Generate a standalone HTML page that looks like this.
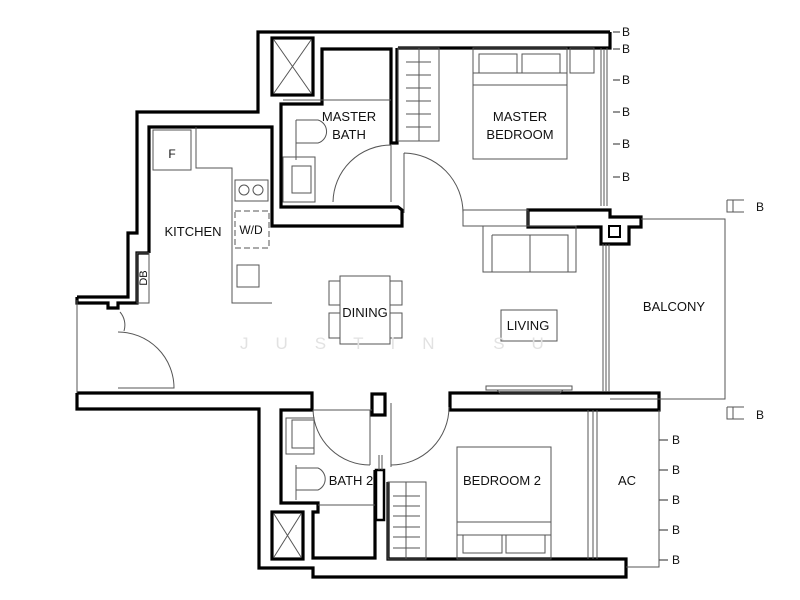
<!DOCTYPE html>
<html><head><meta charset="utf-8"><style>html,body{margin:0;padding:0;background:#fff}svg{display:block}text{font-family:"Liberation Sans",sans-serif;fill:#111}</style></head>
<body>
<svg width="800" height="600" viewBox="0 0 800 600" xmlns="http://www.w3.org/2000/svg">
<rect width="800" height="600" fill="#fff"/>
<g fill="none" stroke="#000" stroke-width="3.2" stroke-linejoin="miter">
<!-- outer upper-left wall -->
<path d="M610,32 L258,32 L258,112 L137,112 L137,233 L128,233 L128,297 L77,297"/>
<path d="M610,32 L610,48 L398,48"/>
<!-- kitchen inner wall -->
<path d="M149,253 L149,127 L272,127 L272,226 L402,226 L402,210 L398,207 L281,207 L281,104 L322,104 L322,49 L391,49 L391,143 L397,143 L397,48"/>
<path d="M77,297 L77,303 L108,303 L108,308 L118,308 L118,303 L128,303 L137,303 L137,253 L149,253"/>
<!-- shaft -->
<rect x="272" y="38" width="41" height="57"/>
<!-- living/balcony wall -->
<path d="M528,210 L610,210 L610,217 L641,217 L641,227 L629,227 L629,244 L601,244 L601,227 L528,227 Z"/>
<rect x="609" y="226" width="11" height="11" stroke-width="2"/>
<!-- bottom left wall -->
<path d="M77,393 L312,393 L312,410 L281,410 L281,503 L318,503 L318,512 L313,512 L313,558 L375,558 L375,470"/>
<path d="M77,393 L77,409 L259,409 L259,568 L313,568 L313,577 L626,577 L626,559 L388,559 L388,482"/>
<rect x="272" y="512" width="31" height="47"/>
<rect x="372" y="394" width="13" height="21"/>
<rect x="450" y="393" width="209" height="17"/>
<rect x="376" y="470" width="8" height="50" stroke-width="2.5"/>
</g>
<g fill="none" stroke="#555" stroke-width="1">
<!-- shaft X -->
<path d="M274,40 L311,93 M311,40 L274,93 M274,514 L301,557 M301,514 L274,557"/>
<!-- kitchen counter -->
<path d="M196,127 L196,168 L232,168 L232,303 L272,303"/>
<rect x="153" y="130" width="38" height="40"/>
<rect x="235" y="180" width="33" height="21"/>
<circle cx="244" cy="190" r="5"/><circle cx="258" cy="190" r="5"/>
<rect x="235" y="211" width="34" height="37" stroke-dasharray="6,3"/>
<rect x="237" y="265" width="22" height="22"/>
<rect x="137" y="253" width="12" height="50"/>
<!-- master bath -->
<path d="M283,100 L391,100 M296,120 L296,160"/>
<path d="M296,120 L318,120 A12,12 0 0 1 318,143 L296,143"/>
<rect x="283" y="157" width="32" height="45"/>
<rect x="292" y="166" width="19" height="27"/>
<path d="M333,202 A58,58 0 0 1 391,145 M391,145 L391,202"/>
<!-- wardrobe master -->
<rect x="398" y="48" width="41" height="93"/>
<path d="M419,48 L419,141 M406,62 L431,62 M406,75 L431,75 M406,88 L431,88 M406,101 L431,101 M406,114 L431,114 M406,127 L431,127"/>
<!-- master door -->
<path d="M404,153 L404,213 M404,153 A60,60 0 0 1 463,213"/>
<rect x="463" y="210" width="65" height="16"/>
<!-- master bed -->
<rect x="473" y="48" width="94" height="111"/>
<path d="M473,73 L567,73 M473,85 L567,85"/>
<rect x="479" y="54" width="38" height="19"/><rect x="522" y="54" width="38" height="19"/>
<rect x="570" y="48" width="24" height="25"/>
<!-- master window -->
<path d="M601,48 L601,206 M604,50 L604,206 M607,48 L607,206"/>
<g stroke-width="1.3"><path d="M613,32 L620,32 M613,49 L620,49 M613,80 L620,80 M613,112 L620,112 M613,144 L620,144 M613,177 L620,177"/></g>
<!-- sofa -->
<rect x="483" y="226" width="93" height="46"/>
<path d="M492,235 L568,235 L568,272 M492,235 L492,272 M530,235 L530,272"/>
<!-- balcony -->
<path d="M641,219 L725,219 L725,399 L610,399"/>
<path d="M603,244 L603,392 M606,244 L606,392 M609,244 L609,392"/>
<path d="M727,200 L727,212 L744,212 M727,200 L744,200 M733,200 L733,212"/>
<path d="M727,407 L727,419 L744,419 M727,407 L744,407 M733,407 L733,419"/>
<!-- dining -->
<rect x="340" y="276" width="50" height="68"/>
<rect x="329" y="281" width="11" height="24"/><rect x="329" y="313" width="11" height="25"/>
<rect x="390" y="281" width="12" height="24"/><rect x="390" y="313" width="12" height="25"/>
<!-- living -->
<rect x="501" y="310" width="56" height="31"/>
<path d="M486,386 L572,386 L572,390 L486,390 Z M497,390 L500,393 L560,393 L563,390"/>
<!-- entrance door -->
<path d="M77,300 L77,393 M118,332 A56,56 0 0 1 174,388 L118,388 M120,312 A20,20 0 0 1 124,331"/>
<!-- bath2 -->
<path d="M313,410 L372,410 M370,410 L370,465 M313,410 A57,57 0 0 0 370,465"/>
<rect x="286" y="418" width="28" height="36"/>
<rect x="292" y="420" width="22" height="28"/>
<path d="M296,468 L318,468 A12,12 0 0 1 318,490 L296,490 M296,465 L296,500 M318,505 L375,505"/>
<path d="M379,455 L379,470 M382,455 L382,470"/>
<!-- bedroom2 door -->
<path d="M391,403 L391,467 M449,407 A58,58 0 0 1 391,465"/>
<!-- bedroom2 wardrobe -->
<rect x="388" y="482" width="38" height="77"/>
<path d="M406,482 L406,559 M393,496 L420,496 M393,506 L420,506 M393,516 L420,516 M393,527 L420,527 M393,537 L420,537 M393,548 L420,548"/>
<!-- bedroom2 bed -->
<rect x="457" y="447" width="94" height="112"/>
<path d="M457,522 L551,522 M457,535 L551,535"/>
<rect x="463" y="535" width="39" height="18"/><rect x="506" y="535" width="39" height="18"/>
<!-- AC -->
<path d="M588,410 L588,559 M593,410 L593,559 M597,410 L597,559"/>
<path d="M659,410 L659,567 L626,567"/>
<g stroke-width="1.3"><path d="M659,440 L668,440 M659,470 L668,470 M659,500 L668,500 M659,530 L668,530 M659,560 L668,560"/></g>
</g>
<g font-size="13" text-anchor="middle">
<text x="349" y="121">MASTER</text><text x="349" y="139">BATH</text>
<text x="520" y="121">MASTER</text><text x="520" y="139">BEDROOM</text>
<text x="193" y="236">KITCHEN</text>
<text x="251" y="234" font-size="12">W/D</text>
<text x="172" y="158" font-size="12">F</text>
<text x="365" y="317">DINING</text>
<text x="528" y="330">LIVING</text>
<text x="674" y="311">BALCONY</text>
<text x="502" y="485">BEDROOM 2</text>
<text x="627" y="485">AC</text>
<text x="351" y="485">BATH 2</text>
<text x="147" y="278" font-size="11" transform="rotate(-90 147 278)">DB</text>
</g>
<g font-size="12">
<text x="622" y="36">B</text><text x="622" y="53">B</text><text x="622" y="84">B</text><text x="622" y="116">B</text><text x="622" y="148">B</text><text x="622" y="181">B</text>
<text x="756" y="211">B</text><text x="756" y="419">B</text>
<text x="672" y="444">B</text><text x="672" y="474">B</text><text x="672" y="504">B</text><text x="672" y="534">B</text><text x="672" y="564">B</text>
</g>
<text x="240" y="349" font-size="17" fill="#ddd" style="fill:#e2e2e2" letter-spacing="27">JUSTIN SU</text>
</svg>
</body></html>
